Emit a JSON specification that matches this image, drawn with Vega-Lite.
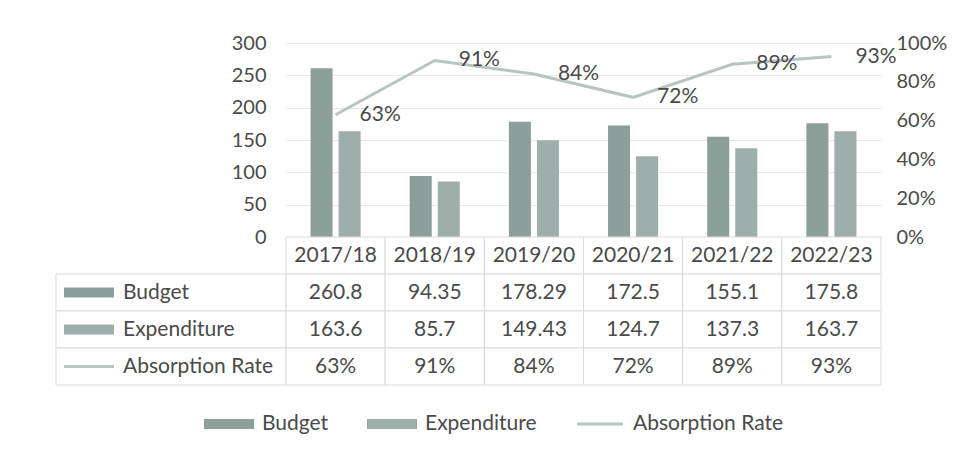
{
  "$schema": "https://vega.github.io/schema/vega-lite/v6.json",
  "background": "white",
  "padding": {"left": 55, "top": 33, "right": 5, "bottom": 5},
  "config": {
    "view": {"stroke": null},
    "font": "Lato",
    "text": {"font": "Lato", "fontSize": 21, "color": "#4a4a4a"},
    "axis": {"labelFont": "Lato", "labelFontSize": 20, "labelColor": "#4a4a4a"},
    "legend": {"labelFont": "Lato", "labelFontSize": 21, "labelColor": "#4a4a4a"}
  },
  "datasets": {
    "bars": [
      {"year": "2017/18", "series": "Budget", "value": 260.8},
      {"year": "2017/18", "series": "Expenditure", "value": 163.6},
      {"year": "2018/19", "series": "Budget", "value": 94.35},
      {"year": "2018/19", "series": "Expenditure", "value": 85.7},
      {"year": "2019/20", "series": "Budget", "value": 178.29},
      {"year": "2019/20", "series": "Expenditure", "value": 149.43},
      {"year": "2020/21", "series": "Budget", "value": 172.5},
      {"year": "2020/21", "series": "Expenditure", "value": 124.7},
      {"year": "2021/22", "series": "Budget", "value": 155.1},
      {"year": "2021/22", "series": "Expenditure", "value": 137.3},
      {"year": "2022/23", "series": "Budget", "value": 175.8},
      {"year": "2022/23", "series": "Expenditure", "value": 163.7}
    ],
    "rates": [
      {"year": "2017/18", "rate": 0.63},
      {"year": "2018/19", "rate": 0.91},
      {"year": "2019/20", "rate": 0.84},
      {"year": "2020/21", "rate": 0.72},
      {"year": "2021/22", "rate": 0.89},
      {"year": "2022/23", "rate": 0.93}
    ],
    "rows": [
      {"row": "Budget"},
      {"row": "Expenditure"},
      {"row": "Absorption Rate"}
    ]
  },
  "columns": 2,
  "spacing": 0,
  "bounds": "flush",
  "align": "each",
  "concat": [
    {
      "width": 230,
      "height": 194,
      "data": {"values": []},
      "mark": "rect",
      "encoding": {}
    },
    {
      "width": 595,
      "height": 194,
      "layer": [
        {
          "data": {"name": "bars"},
          "mark": {"type": "bar"},
          "encoding": {
            "x": {"field": "year", "type": "nominal", "scale": {"domain": ["2017/18", "2018/19", "2019/20", "2020/21", "2021/22", "2022/23"], "paddingInner": 0, "paddingOuter": 0}, "axis": null},
            "xOffset": {"field": "series", "type": "nominal", "sort": ["Budget", "Expenditure"], "scale": {"paddingInner": 0.214, "paddingOuter": 0.875}},
            "y": {
              "field": "value", "type": "quantitative",
              "scale": {"domain": [0, 300]},
              "axis": {"values": [0, 50, 100, 150, 200, 250, 300], "grid": true, "gridColor": "#e8e8e8", "domain": false, "ticks": false, "labelPadding": 20, "title": null}
            },
            "color": {
              "field": "series", "type": "nominal",
              "scale": {"domain": ["Budget", "Expenditure", "Absorption Rate"], "range": ["#8d9f9b", "#9eaeab", "#b7c5c2"]},
              "legend": {
                "orient": "none",
                "direction": "horizontal",
                "legendX": 148,
                "legendY": 356,
                "title": null,
                "symbolType": {"expr": "datum.value === 'Absorption Rate' ? 'M-0.92,-0.06H0.92V0.06H-0.92Z' : 'M-1,-0.2H1V0.2H-1Z'"},
                "symbolSize": 2500,
                "symbolStrokeWidth": 0,
                "labelOffset": 8,
                "columnPadding": 38
              }
            }
          }
        },
        {
          "data": {"name": "rates"},
          "encoding": {
            "x": {"field": "year", "type": "nominal", "scale": {"domain": ["2017/18", "2018/19", "2019/20", "2020/21", "2021/22", "2022/23"]}, "axis": null},
            "y": {
              "field": "rate", "type": "quantitative",
              "scale": {"domain": [0, 1]},
              "axis": {"orient": "right", "format": ".0%", "values": [0, 0.2, 0.4, 0.6, 0.8, 1], "grid": false, "domain": false, "ticks": false, "labelPadding": 15, "title": null}
            }
          },
          "layer": [
            {"mark": {"type": "line", "color": "#b7c5c2", "strokeWidth": 3}},
            {
              "mark": {"type": "text", "align": "left", "baseline": "middle", "dx": 24},
              "encoding": {"text": {"field": "rate", "type": "quantitative", "format": ".0%"}}
            }
          ]
        }
      ],
      "resolve": {"scale": {"y": "independent"}}
    },
    {
      "width": 230,
      "height": 148,
      "data": {"name": "rows"},
      "encoding": {
        "y": {"field": "row", "type": "nominal", "scale": {"domain": ["Year", "Budget", "Expenditure", "Absorption Rate"], "paddingInner": 0, "paddingOuter": 0}, "axis": null}
      },
      "layer": [
        {"mark": {"type": "rect", "fill": "white", "stroke": "#dadada", "strokeWidth": 1}},
        {
          "transform": [{"filter": "datum.row !== 'Absorption Rate'"}],
          "mark": {"type": "point", "filled": true, "opacity": 1, "size": 2500, "shape": "M-4.28,-0.2H-2.28V0.2H-4.28Z"},
          "encoding": {"color": {"field": "row", "type": "nominal", "legend": null}}
        },
        {
          "transform": [{"filter": "datum.row === 'Absorption Rate'"}],
          "mark": {"type": "point", "filled": true, "opacity": 1, "size": 2500, "shape": "M-4.28,-0.06H-2.28V0.06H-4.28Z"},
          "encoding": {"color": {"field": "row", "type": "nominal", "legend": null}}
        },
        {
          "mark": {"type": "text", "align": "left", "baseline": "middle", "dx": -48},
          "encoding": {"text": {"field": "row", "type": "nominal"}}
        }
      ]
    },
    {
      "width": 595,
      "height": 148,
      "encoding": {
        "x": {"field": "year", "type": "nominal", "scale": {"domain": ["2017/18", "2018/19", "2019/20", "2020/21", "2021/22", "2022/23"], "paddingInner": 0, "paddingOuter": 0}, "axis": null}
      },
      "layer": [
        {
          "data": {"name": "rates"},
          "encoding": {"y": {"datum": "Year", "type": "nominal", "scale": {"domain": ["Year", "Budget", "Expenditure", "Absorption Rate"], "paddingInner": 0, "paddingOuter": 0}, "axis": null}},
          "layer": [
            {"mark": {"type": "rect", "fill": "white", "stroke": "#dadada", "strokeWidth": 1}},
            {"mark": {"type": "text", "baseline": "middle"}, "encoding": {"text": {"field": "year", "type": "nominal"}}}
          ]
        },
        {
          "data": {"name": "bars"},
          "encoding": {"y": {"field": "series", "type": "nominal", "axis": null}},
          "layer": [
            {"mark": {"type": "rect", "fill": "white", "stroke": "#dadada", "strokeWidth": 1}},
            {"mark": {"type": "text", "baseline": "middle"}, "encoding": {"text": {"field": "value", "type": "nominal"}}}
          ]
        },
        {
          "data": {"name": "rates"},
          "encoding": {"y": {"datum": "Absorption Rate", "type": "nominal", "axis": null}},
          "layer": [
            {"mark": {"type": "rect", "fill": "white", "stroke": "#dadada", "strokeWidth": 1}},
            {"mark": {"type": "text", "baseline": "middle"}, "encoding": {"text": {"field": "rate", "type": "quantitative", "format": ".0%"}}}
          ]
        }
      ]
    }
  ]
}
